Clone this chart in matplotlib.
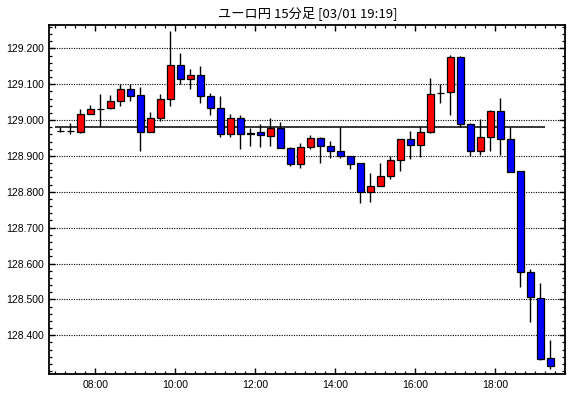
import matplotlib
matplotlib.use("Agg")
import matplotlib.pyplot as plt
from matplotlib.ticker import FixedLocator, MultipleLocator
import numpy as np
import pandas as pd

title = "ユーロ円 15分足 [03/01 19:19]"
start_time = "2024-03-01 07:00"
interval_min = 15

opens = [128.969, 128.969, 128.968, 129.016, 129.030, 129.033, 129.052, 129.086, 129.069, 128.968,
         129.005, 129.060, 129.153, 129.115, 129.127, 129.066, 129.035, 128.960, 129.005, 128.960,
         128.966, 128.956, 128.978, 128.921, 128.878, 128.924, 128.949, 128.929, 128.913, 128.899,
         128.879, 128.800, 128.817, 128.845, 128.890, 128.946, 128.930, 128.966, 129.075, 129.077,
         129.175, 128.988, 128.915, 128.952, 129.025, 128.946, 128.857, 128.577, 128.505, 128.336]
highs = [128.980, 128.991, 129.032, 129.042, 129.073, 129.069, 129.100, 129.100, 129.092, 129.022,
         129.073, 129.248, 129.187, 129.142, 129.151, 129.075, 129.067, 129.017, 129.013, 128.979,
         128.988, 129.006, 128.994, 128.924, 128.936, 128.957, 128.954, 128.943, 128.980, 128.899,
         128.879, 128.853, 128.880, 128.901, 128.947, 128.970, 128.984, 129.116, 129.100, 129.181,
         129.178, 128.993, 129.003, 129.028, 129.061, 128.980, 128.857, 128.584, 128.545, 128.388]
lows = [128.966, 128.961, 128.965, 129.016, 128.983, 129.030, 129.040, 129.054, 128.913, 128.968,
        128.997, 129.038, 129.100, 129.087, 129.047, 129.015, 128.953, 128.953, 128.920, 128.928,
        128.926, 128.928, 128.921, 128.873, 128.867, 128.920, 128.881, 128.893, 128.893, 128.864,
        128.768, 128.771, 128.817, 128.836, 128.859, 128.892, 128.896, 128.963, 129.048, 129.015,
        128.981, 128.899, 128.902, 128.914, 128.902, 128.855, 128.534, 128.437, 128.330, 128.307]
closes = [128.969, 128.969, 129.016, 129.030, 129.032, 129.052, 129.086, 129.068, 128.968, 129.005,
          129.060, 129.153, 129.115, 129.127, 129.066, 129.034, 128.960, 129.005, 128.960, 128.965,
          128.957, 128.978, 128.921, 128.878, 128.924, 128.949, 128.928, 128.913, 128.899, 128.878,
          128.800, 128.817, 128.845, 128.890, 128.946, 128.930, 128.966, 129.074, 129.075, 129.175,
          128.988, 128.915, 128.952, 129.025, 128.947, 128.855, 128.577, 128.507, 128.335, 128.314]
ref_level = 128.980

y_major = [128.4, 128.5, 128.6, 128.7, 128.8, 128.9, 129.0, 129.1, 129.2]
x_major_hours = [8, 10, 12, 14, 16, 18]
x_labels = ["08:00", "10:00", "12:00", "14:00", "16:00", "18:00"]

times = pd.date_range(start_time, periods=len(opens), freq=f"{interval_min}min")
day0 = times[0].normalize()
t_start = np.array([(t - day0).total_seconds() / 3600 for t in times])
step = interval_min / 60
xc = t_start + step / 2

O = np.array(opens); H = np.array(highs); L = np.array(lows); C = np.array(closes)

fig = plt.figure(figsize=(5.70, 3.98), dpi=100)
ax = fig.add_axes([0.0865, 0.0595, 0.9056, 0.8776])

# reference line
ax.hlines(ref_level, t_start[0], t_start[-1], color="black", lw=1.1, zorder=2)

# wicks
ax.vlines(xc, L, H, color="black", lw=1.0, zorder=3)

colors = []
for o, c in zip(O, C):
    if c > o:
        colors.append("#ff0000")
    elif c < o:
        colors.append("#0000ff")
    else:
        colors.append("black")
bottom = np.minimum(O, C)
height = np.abs(C - O)
ax.bar(xc, height, bottom=bottom, width=step * 0.7, color=colors,
       edgecolor="black", linewidth=0.9, zorder=4)

ax.set_xlim(6.85, 19.755)
ax.set_ylim(128.291, 129.265)

ax.yaxis.set_major_locator(FixedLocator(y_major))
ax.yaxis.set_minor_locator(MultipleLocator(0.02))
ax.set_yticklabels([f"{v:.3f}" for v in y_major])
ax.xaxis.set_major_locator(FixedLocator(x_major_hours))
ax.xaxis.set_minor_locator(MultipleLocator(step))
ax.set_xticklabels(x_labels)

ax.grid(axis="y", which="major", color="black", linestyle=(0, (1, 1.2)), linewidth=0.8)
ax.set_axisbelow(True)

ax.tick_params(which="both", direction="in", top=True, right=True, color="black")
ax.tick_params(which="major", length=4, width=1.0, pad=4)
ax.tick_params(which="minor", length=2.2, width=0.9)
for lab in ax.get_xticklabels() + ax.get_yticklabels():
    lab.set_fontfamily(["Liberation Sans", "DejaVu Sans"])
    lab.set_fontsize(7.5)
for s in ax.spines.values():
    s.set_linewidth(1.3)
    s.set_color("black")

fig.text(0.5395, 0.968, title, ha="center", va="center", fontsize=9.5,
         family=["Noto Sans CJK JP", "DejaVu Sans"])

fig.savefig("out.png", dpi=100)
